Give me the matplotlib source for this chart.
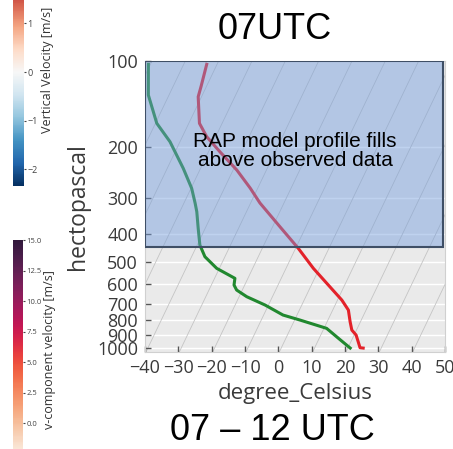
import numpy as np
import matplotlib
matplotlib.use("Agg")
import matplotlib.pyplot as plt
import matplotlib.colors as mcolors
import seaborn as sns  # registers the rocket colormaps

# RAP / observed sounding (hPa, degC)
pres_t = [102.7, 122.9, 133.2, 164.9, 183.6, 207.1, 239.8, 277.1, 312.6, 378.1,
          449.6, 527.9, 612.0, 681.0, 737.8, 810.4, 866.2, 901.6, 951.5, 998.0, 1001.0]
temp = [-63.1, -61.6, -61.0, -56.8, -52.7, -46.6, -38.9, -32.3, -27.2, -17.8,
        -9.2, -1.8, 5.8, 11.3, 14.7, 16.9, 18.6, 20.6, 22.2, 23.6, 24.6]

pres_td = [102.7, 131.4, 164.9, 191.1, 236.6, 277.8, 313.3, 335.2, 382.9, 437.8,
           480.9, 527.9, 572.0, 603.6, 628.3, 662.9, 708.8, 767.9, 799.3, 854.5,
           925.9, 1000.8]
dewp = [-80.6, -76.2, -69.6, -63.0, -55.2, -49.8, -46.6, -44.9, -42.1, -39.2,
        -36.0, -30.8, -23.9, -23.2, -21.7, -17.7, -11.0, -4.2, 1.6, 10.8,
        15.8, 20.7]

p_ticks = [100, 200, 300, 400, 500, 600, 700, 800, 900, 1000]
t_ticks = [-40, -30, -20, -10, 0, 10, 20, 30, 40, 50]
isotherms = np.arange(-120, 60, 10)
model_top, model_bottom = 100, 445   # hPa span of the RAP fill box

w_ticks = [-2, -1, 0, 1]
v_ticks = [-2.5, 0, 2.5, 5, 7.5, 10, 12.5, 15]

SKEW = 17.9      # degC per ln(p) unit
P_REF = 1050.0


def skew(t, p):
    return np.asarray(t) + SKEW * np.log(P_REF / np.asarray(p))


W, H = 453, 449
fig = plt.figure(figsize=(W / 100, H / 100), dpi=100)
fig.patch.set_facecolor("white")

ax = fig.add_axes([145 / W, 1 - 352 / H, 300 / W, 291 / H])
ax.set_facecolor("#EAEAEA")
ax.set_yscale("log")
ax.set_ylim(1033, 100)
ax.set_xlim(-40, 50)

ax.set_yticks(p_ticks)
ax.set_yticklabels([str(p) for p in p_ticks])
ax.yaxis.set_minor_locator(matplotlib.ticker.NullLocator())
ax.set_xticks(t_ticks)
ax.set_xticklabels([str(t).replace("-", "\u2212") for t in t_ticks])

for p in p_ticks:
    ax.axhline(p, color="white", lw=1.0, zorder=1)

pp = np.geomspace(1040, 95, 50)
for t in isotherms:
    ax.plot(skew(np.full_like(pp, t), pp), pp, color="#C4C4C4", lw=0.6, zorder=1)

ax.plot(skew(temp, pres_t), pres_t, color="#E3222A", lw=2.2, zorder=3)
ax.plot(skew(dewp, pres_td), pres_td, color="#21882F", lw=2.2, zorder=3)

ax.axhspan(model_bottom, model_top, xmin=0, xmax=0.993, facecolor="#729CDD",
           alpha=0.45, zorder=4)
ax.axhspan(model_bottom, model_top, xmin=0, xmax=0.993, facecolor="none",
           edgecolor="#3F4F66", lw=1.5, zorder=5)

for s in ax.spines.values():
    s.set_color("#D0D0D0")
    s.set_linewidth(0.8)

ax.tick_params(direction="in", length=4, width=1, color="#555555", pad=5,
               labelsize=13, labelcolor="#3A3A3A")
for lab in ax.get_xticklabels() + ax.get_yticklabels():
    lab.set_family("Open Sans")

ax.set_ylabel("hectopascal", fontsize=16.5, family="Open Sans", color="#3A3A3A",
              labelpad=5)
ax.set_xlabel("degree_Celsius", fontsize=16, family="Open Sans", color="#3A3A3A",
              labelpad=4)

ax.text(0.5, 0.69, "RAP model profile fills\nabove observed data",
        transform=ax.transAxes, ha="center", va="center", fontsize=15,
        family="Liberation Sans", linespacing=1.0, zorder=6)

fig.text(275 / W, 1 - 39.3 / H, "07UTC", ha="center", va="baseline",
         fontsize=26, family="Liberation Sans")
fig.text(272.5 / W, 1 - 439.5 / H, "07 \u2013 12 UTC", ha="center", va="baseline",
         fontsize=26, family="Liberation Sans")

# vertical velocity colour bar (cropped at the top of the slide)
cax1 = fig.add_axes([13 / W, 1 - 186 / H, 11 / W, 228 / H])
sm1 = plt.cm.ScalarMappable(norm=mcolors.Normalize(-2.35, 2.35), cmap="RdBu_r")
cb1 = fig.colorbar(sm1, cax=cax1, ticks=w_ticks)
cb1.ax.set_yticklabels([str(t).replace("-", "\u2212") for t in w_ticks])
cb1.outline.set_visible(False)
cb1.ax.tick_params(labelsize=6.5, length=1.5, pad=0.8, color="#444444",
                   labelcolor="#444444")
for lab in cb1.ax.get_yticklabels():
    lab.set_family("Open Sans")
fig.text(47 / W, 1 - 70 / H, "Vertical Velocity [m/s]", rotation=90,
         ha="center", va="center", fontsize=9, family="Open Sans", color="#333333")

# v-component colour bar (cropped at the bottom)
v_lo, v_hi = -3, 15
rocket = plt.get_cmap("rocket_r")
cmap2 = mcolors.ListedColormap(
    rocket(np.clip(0.12 + 0.05 * np.linspace(v_lo, v_hi, 256), 0, 1)))
cax2 = fig.add_axes([13 / W, 1 - 459.6 / H, 10 / W, 219.6 / H])
sm2 = plt.cm.ScalarMappable(norm=mcolors.Normalize(v_lo, v_hi), cmap=cmap2)
cb2 = fig.colorbar(sm2, cax=cax2, ticks=v_ticks)
cb2.ax.set_yticklabels([f"{t:.1f}".replace("-", "\u2212") for t in v_ticks])
cb2.outline.set_visible(False)
cb2.ax.tick_params(labelsize=5.5, length=1.5, pad=0.8, color="#444444",
                   labelcolor="#444444")
for lab in cb2.ax.get_yticklabels():
    lab.set_family("Open Sans")
fig.text(50 / W, 1 - 350 / H, "v-component velocity [m/s]", rotation=90,
         ha="center", va="center", fontsize=9, family="Open Sans", color="#333333")

fig.savefig("out.png", dpi=100)
